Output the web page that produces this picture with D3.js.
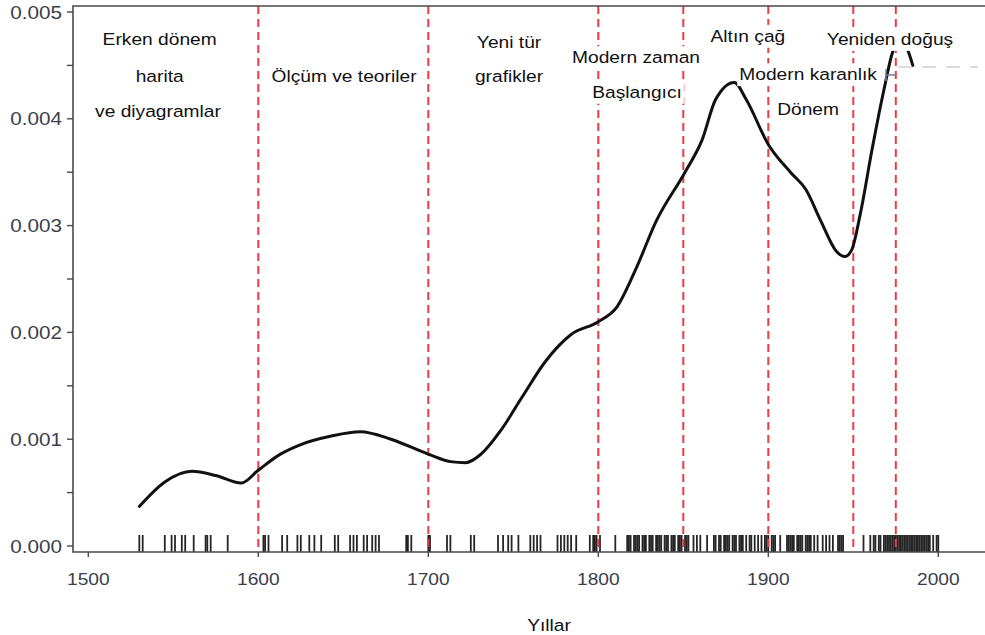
<!DOCTYPE html>
<html>
<head>
<meta charset="utf-8">
<script src="https://cdn.jsdelivr.net/npm/d3@7"></script>
<style>
  html, body { margin: 0; padding: 0; background: #fff; }
  svg { display: block; }
</style>
</head>
<body>
<svg id="chart" width="985" height="635"></svg>
<script>
// ---- data ----
const densityYears = [1530,1545,1561,1575,1590,1600,1613,1625,1643,1660,1678,1700,1713,1722,1731,1743,1755,1769,1784,1800,1811,1822,1834,1851,1861,1869,1880,1887,1900,1913,1922,1931,1940,1945,1949,1954,1961,1968,1974,1978,1981,1985];
const densityValues = [0.00037,0.00060,0.00070,0.00066,0.00059,0.00071,0.00086,0.00095,0.00103,0.00107,0.00100,0.00086,0.00079,0.00078,0.00086,0.00109,0.00139,0.00173,0.00198,0.00210,0.00224,0.00259,0.00304,0.00350,0.00380,0.00418,0.00434,0.00418,0.00376,0.00350,0.00334,0.00304,0.00276,0.00271,0.00277,0.00310,0.00371,0.00427,0.00466,0.00472,0.00468,0.00450];

const rugYears = [1530,1532,1545,1549,1551,1555,1557,1562,1569,1570,1572,1582,
  1603,1604,1606,1614,1617,1623,1625,1630,1633,1637,1645,1647,1654,1656,1658,1662,1664,1667,1669,1671,1687,1688,1690,1700,1701,1711,1713,
  1725,1727,1741,1744,1747,1749,1753,1760,1762,1764,1766,1776,1778,1780,1782,1784,1787,1795,1797,1798,1799,1801,1810,
  1817,1818,1819,1821,1822,1823,1824,1826,1827,1828,1830,1831,1832,1834,1835,1836,1837,1839,1840,1841,1843,1844,1845,1847,1848,1849,1851,1852,1853,1856,1858,1860,1864,
  1868,1869,1871,1872,1874,1875,1876,1877,1879,1880,1881,1883,1884,1885,1887,1889,1890,1892,1894,1896,1898,1899,1900,1902,1903,1904,1907,
  1911,1912,1913,1914,1915,1917,1918,1919,1920,1922,1923,1924,1925,1927,1929,1932,1934,1936,1938,1941,1942,1943,1944,
  1956,1960,1962,1963,1965,1966,1968,1969,1970,1971,1972,1973,1974,1975,1976,1977,1978,1979,1980,1981,1982,1983,1984,1985,1986,1987,1988,1989,1990,1991,1992,1993,1994,1995,1997,1999,2000];

const periodBreaks = [1600,1700,1800,1850,1900,1950,1975];

const xTickValues = [1500,1600,1700,1800,1900,2000];
const yTickValues = [0,0.001,0.002,0.003,0.004,0.005];
const yMinorTickValues = [0,0.0005,0.001,0.0015,0.002,0.0025,0.003,0.0035,0.004,0.0045,0.005];

const periodLabelTexts = ["Erken dönem","harita","ve diyagramlar","Ölçüm ve teoriler","Yeni tür","grafikler",
  "Modern zaman","Başlangıcı","Altın çağ","Modern karanlık","Dönem","Yeniden doğuş"];
const periodLabelYears = [1542,1542,1541,1650.4,1747.5,1747.5,1822.2,1822.8,1888,1923.4,1923.4,1971.6];
const periodLabelLevels = [0.00469,0.004345,0.00402,0.004345,0.00466,0.004345,0.00452,0.004195,0.00472,0.00436,0.00404,0.00469];

const xTitle = "Yıllar";

// ---- layout ----
const svg = d3.select("#chart");
const FONT = "'Liberation Sans', Arial, Helvetica, sans-serif";
const SX = 1.13;
const plotLeft = 73, plotTop = 6, plotBottom = 552, plotRight = 1000;

const x = d3.scaleLinear().domain([1500, 2000]).range([88.3, 938.3]);
const y = d3.scaleLinear().domain([0, 0.005]).range([546, 12]);

// rug
svg.append("g").selectAll("line").data(rugYears).join("line")
  .attr("x1", d => x(d)).attr("x2", d => x(d))
  .attr("y1", 535).attr("y2", plotBottom)
  .attr("stroke", "#000").attr("stroke-opacity", 0.85).attr("stroke-width", 1.8);

// period lines
svg.append("g").selectAll("line").data(periodBreaks).join("line")
  .attr("x1", d => x(d)).attr("x2", d => x(d))
  .attr("y1", plotTop).attr("y2", plotBottom)
  .attr("stroke", "#ee3b43").attr("stroke-width", 2)
  .attr("stroke-dasharray", "8,5");

// density curve
const line = d3.line().x((d, i) => x(densityYears[i])).y(d => y(d)).curve(d3.curveMonotoneX);
svg.append("path").datum(densityValues)
  .attr("d", line).attr("fill", "none")
  .attr("stroke", "#111").attr("stroke-width", 3)
  .attr("stroke-linecap", "round").attr("stroke-linejoin", "round");

// frame
svg.append("path")
  .attr("d", `M${plotRight},${plotTop}H${plotLeft}V${plotBottom}H${plotRight}`)
  .attr("fill", "none").attr("stroke", "#4a4a4a").attr("stroke-width", 1.6);

// y ticks
svg.append("g").selectAll("line").data(yMinorTickValues).join("line")
  .attr("x1", plotLeft - 6).attr("x2", plotLeft)
  .attr("y1", d => y(d)).attr("y2", d => y(d))
  .attr("stroke", "#4a4a4a").attr("stroke-width", 1.4);
svg.append("g").selectAll("g").data(yTickValues).join("g")
  .attr("transform", d => `translate(62,${y(d) + 6.5})`)
  .append("text").attr("transform", `scale(1.15,1)`)
  .attr("text-anchor", "end")
  .attr("font-family", FONT).attr("font-size", 18).attr("fill", "#3a3f4b")
  .text(d => d3.format(".3f")(d));

// x ticks
svg.append("g").selectAll("line").data(xTickValues).join("line")
  .attr("x1", d => x(d)).attr("x2", d => x(d))
  .attr("y1", plotBottom).attr("y2", plotBottom + 5)
  .attr("stroke", "#4a4a4a").attr("stroke-width", 1.4);
svg.append("g").selectAll("g").data(xTickValues).join("g")
  .attr("transform", d => `translate(${x(d)},585)`)
  .append("text").attr("transform", `scale(${SX},1)`)
  .attr("text-anchor", "middle")
  .attr("font-family", FONT).attr("font-size", 17).attr("fill", "#3a3f4b")
  .text(d => d);

// axis title
svg.append("g").attr("transform", "translate(549,631)")
  .append("text").attr("transform", `scale(${SX},1)`)
  .attr("text-anchor", "middle")
  .attr("font-family", FONT).attr("font-size", 17).attr("fill", "#111")
  .text(xTitle);

// artifacts from the reference (faint dashed edge and small mark)
svg.append("line").attr("x1", 898).attr("x2", 978).attr("y1", 67).attr("y2", 67)
  .attr("stroke", "#cfcfcf").attr("stroke-width", 1.5).attr("stroke-dasharray", "14,10");
svg.append("path").attr("d", "M886,69V81M886,75H896")
  .attr("stroke", "#6f7f9c").attr("stroke-width", 1.5).attr("fill", "none");

// period labels with white background
const labels = svg.append("g").selectAll("g").data(periodLabelTexts).join("g")
  .attr("transform", (d, i) => `translate(${x(periodLabelYears[i])},${y(periodLabelLevels[i])})`);
labels.each(function(d) {
  const g = d3.select(this);
  const t = g.append("text").attr("transform", `scale(${SX},1)`)
    .attr("text-anchor", "middle")
    .attr("font-family", FONT).attr("font-size", 17).attr("fill", "#111")
    .text(d);
  const bb = t.node().getBBox();
  g.insert("rect", "text")
    .attr("x", bb.x * SX - 2).attr("y", bb.y - 2)
    .attr("width", bb.width * SX + 4).attr("height", bb.height + 4)
    .attr("fill", "#fff");
});
</script>
</body>
</html>
